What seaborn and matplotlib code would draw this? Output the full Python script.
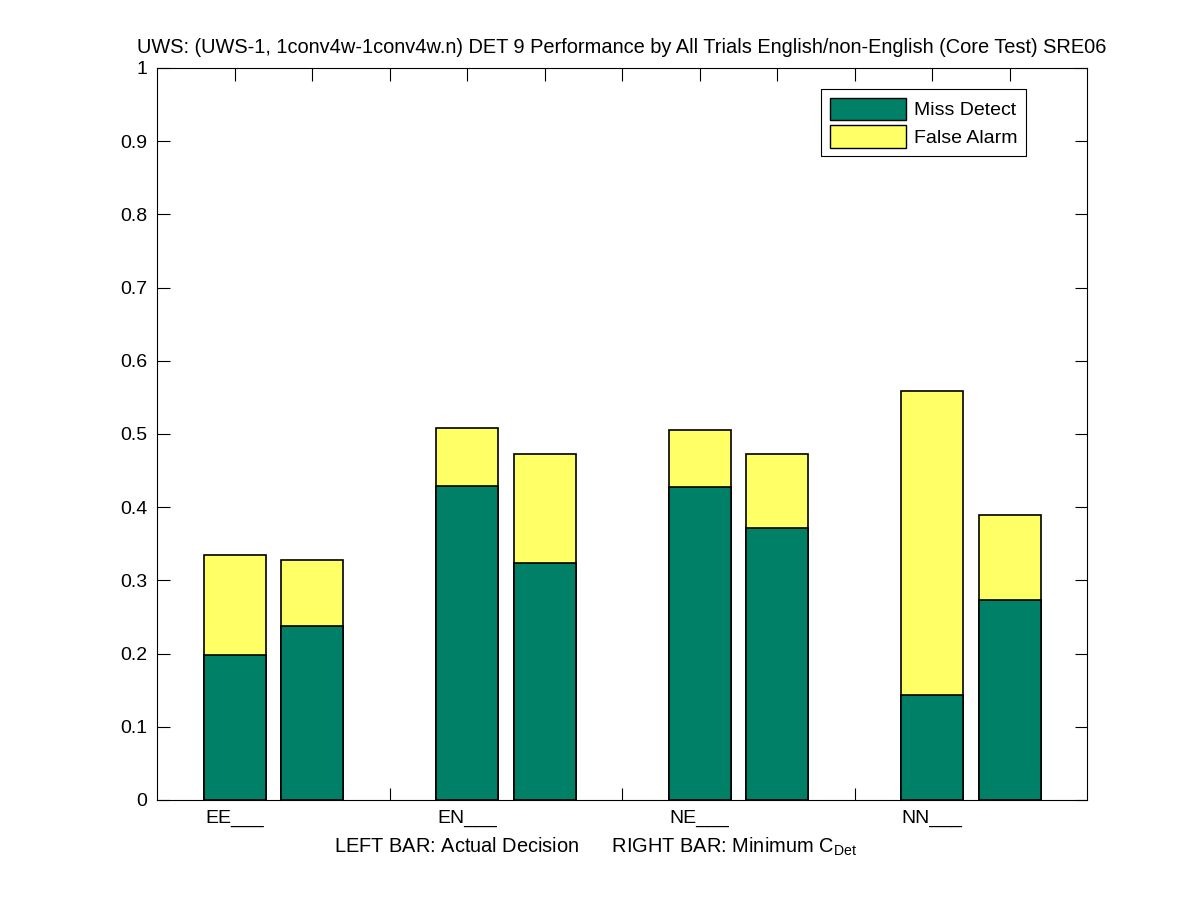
import matplotlib
matplotlib.use("Agg")
import matplotlib.pyplot as plt
import seaborn as sns
import pandas as pd
from matplotlib.patches import Patch

groups = ["EE___", "EN___", "NE___", "NN___"]
miss_actual = [0.198, 0.429, 0.427, 0.143]
total_actual = [0.335, 0.508, 0.505, 0.559]
miss_min = [0.238, 0.324, 0.371, 0.273]
total_min = [0.328, 0.473, 0.472, 0.389]

rows = []
for i, g in enumerate(groups):
    rows.append(dict(pos=i * 3 + 1, miss=miss_actual[i], total=total_actual[i]))
    rows.append(dict(pos=i * 3 + 2, miss=miss_min[i], total=total_min[i]))
df = pd.DataFrame(rows)

sns.set_style("white")
plt.rcParams['font.family'] = ['Liberation Sans', 'DejaVu Sans']
plt.rcParams['text.color'] = 'black'
plt.rcParams['axes.labelcolor'] = 'black'
plt.rcParams['mathtext.fontset'] = 'custom'
plt.rcParams['mathtext.rm'] = 'Liberation Sans'
plt.rcParams['mathtext.it'] = 'Liberation Sans'

GREEN = "#008066"
YELLOW = "#FFFF66"
FS = 14

fig = plt.figure(figsize=(12.01, 9.0), dpi=100)
ax = fig.add_axes([157 / 1201, 100 / 900, 930 / 1201, 732 / 900])

sns.barplot(data=df, x="pos", y="total", native_scale=True, color=YELLOW,
            saturation=1, edgecolor="black", linewidth=1.2, width=0.8, ax=ax, errorbar=None)
sns.barplot(data=df, x="pos", y="miss", native_scale=True, color=GREEN,
            saturation=1, edgecolor="black", linewidth=1.2, width=0.8, ax=ax, errorbar=None)

ax.set_xlim(0, 12)
ax.set_ylim(0, 1)
ax.set_xticks(range(1, 12))
labels = [""] * 11
for i, g in enumerate(groups):
    labels[i * 3] = g
ax.set_xticklabels(labels, fontsize=FS)
ax.set_yticks([i / 10 for i in range(11)])
ax.set_yticklabels(["0"] + [f"{i/10:.1f}" for i in range(1, 10)] + ["1"], fontsize=FS)
ax.tick_params(direction="in", length=9, width=0.8, top=True, right=True,
               bottom=True, left=True, pad=7, colors="black")
for s in ax.spines.values():
    s.set_visible(True)
    s.set_color("black")
    s.set_linewidth(0.8)

ax.set_xlabel("LEFT BAR: Actual Decision      RIGHT BAR: Minimum C$_{\\mathrm{Det}}$",
              fontsize=14.4, labelpad=6, color="black", x=0.471)
ax.set_ylabel("")
ax.set_title("UWS: (UWS-1, 1conv4w-1conv4w.n) DET 9 Performance by All Trials English/non-English (Core Test) SRE06",
             fontsize=14.4, pad=11, color="black")

handles = [Patch(facecolor=GREEN, edgecolor="black", label="Miss Detect"),
           Patch(facecolor=YELLOW, edgecolor="black", label="False Alarm")]
leg = ax.legend(handles=handles, loc="upper right", bbox_to_anchor=(1026 / 1201, (900 - 89) / 900),
                bbox_transform=fig.transFigure, fontsize=FS, fancybox=False, framealpha=1,
                edgecolor="black", handlelength=3.9, handleheight=1.4, borderpad=0.45,
                labelspacing=0.25, handletextpad=0.4, borderaxespad=0)
leg.get_frame().set_linewidth(0.8)

fig.savefig("out.png", dpi=100, facecolor="white")
